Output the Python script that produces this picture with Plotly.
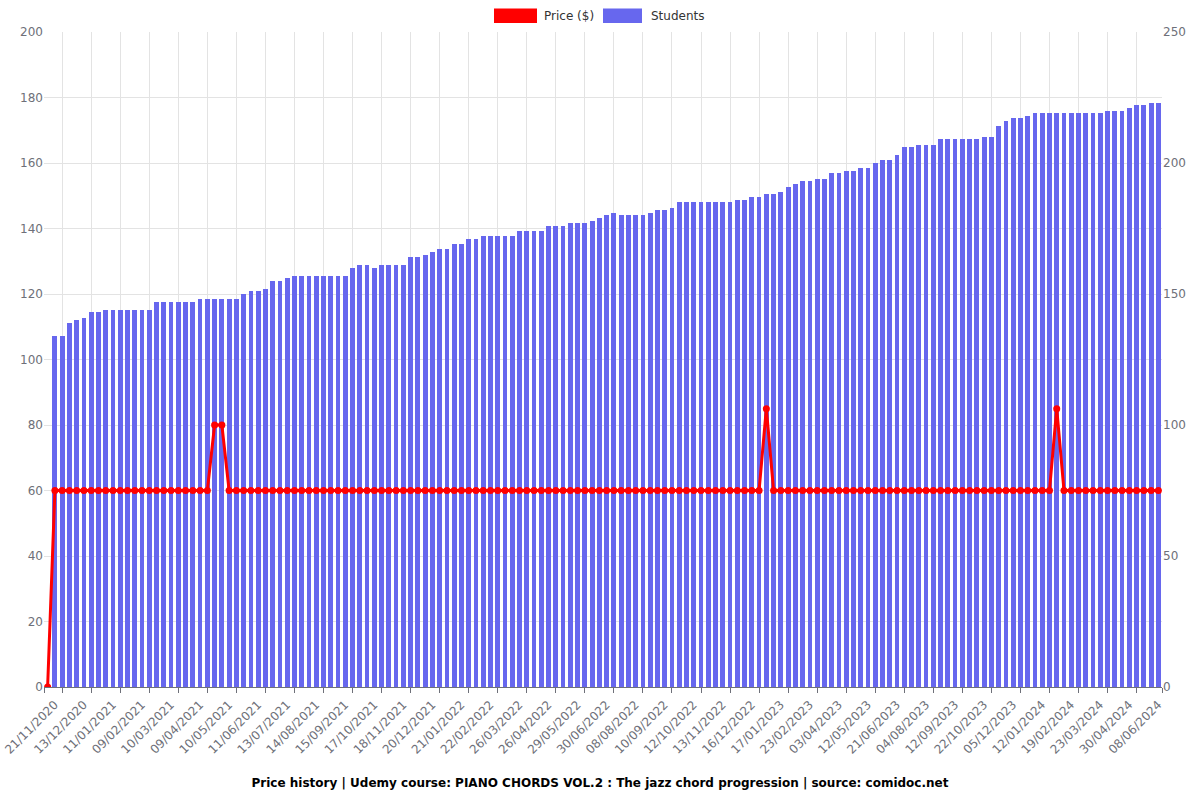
import plotly.graph_objects as go

tick_labels = ["21/11/2020", "13/12/2020", "11/01/2021", "09/02/2021", "10/03/2021", "09/04/2021",
               "10/05/2021", "11/06/2021", "13/07/2021", "14/08/2021", "15/09/2021", "17/10/2021",
               "18/11/2021", "20/12/2021", "21/01/2022", "22/02/2022", "26/03/2022", "26/04/2022",
               "29/05/2022", "30/06/2022", "08/08/2022", "10/09/2022", "12/10/2022", "13/11/2022",
               "16/12/2022", "17/01/2023", "23/02/2023", "03/04/2023", "12/05/2023", "21/06/2023",
               "04/08/2023", "12/09/2023", "22/10/2023", "05/12/2023", "12/01/2024", "19/02/2024",
               "23/03/2024", "30/04/2024", "08/06/2024"]

# run-length groups: (value, count)
students_runs = [(None, 1), (134, 2), (139, 1), (140, 1), (141, 1), (143, 2), (144, 7), (147, 6),
                 (148, 6), (150, 1), (151, 2), (152, 1), (155, 2), (156, 1), (157, 8), (160, 1),
                 (161, 2), (160, 1), (161, 4), (164, 2), (165, 1), (166, 1), (167, 2), (169, 2),
                 (171, 2), (172, 5), (174, 4), (176, 3), (177, 3), (178, 1), (179, 1), (180, 1),
                 (181, 1), (180, 4), (181, 1), (182, 2), (183, 1), (185, 8), (186, 2), (187, 2),
                 (188, 2), (189, 1), (191, 1), (192, 1), (193, 2), (194, 2), (196, 2), (197, 2),
                 (198, 2), (200, 1), (201, 2), (203, 1), (206, 2), (207, 3), (209, 6), (210, 2),
                 (214, 1), (216, 1), (217, 2), (218, 1), (219, 10), (220, 3), (221, 1), (222, 2),
                 (223, 2)]

price_runs = [(0, 1), (60, 22), (80, 2), (60, 74), (85, 1), (60, 39), (85, 1), (60, 14)]

students = [v for v, n in students_runs for _ in range(n)]
price = [v for v, n in price_runs for _ in range(n)]
idx = list(range(len(students)))

BLUE = "#6767ee"
RED = "#ff0000"
GRID_L = "#e3e3e3"
GRID_R = "#cfcfcf"
TXT = "#6e7079"

fig = go.Figure()
fig.add_trace(go.Bar(x=idx, y=students, name="Students", marker=dict(color=BLUE, line=dict(width=0)),
                     width=0.66, yaxis="y", showlegend=False))
fig.add_trace(go.Scatter(x=idx, y=price, name="Price ($)", mode="lines+markers",
                         line=dict(color=RED, width=3), marker=dict(color=RED, size=7),
                         yaxis="y2", showlegend=False))

minor_vals = [-0.5] + list(range(2, len(idx), 4)) + [len(idx) - 0.5]

fig.update_layout(
    width=1200, height=800,
    margin=dict(l=44, r=38, t=32, b=113, autoexpand=False),
    paper_bgcolor="white", plot_bgcolor="white",
    font=dict(family="DejaVu Sans", size=12, color=TXT),
    bargap=0,
    xaxis=dict(range=[-0.5, len(idx) - 0.5], tickmode="array", automargin=False,
               tickvals=list(range(0, len(idx), 4))[:len(tick_labels)], ticktext=tick_labels,
               tickangle=-45, showgrid=False, ticks="", zeroline=False,
               ticklabeloverflow="allow", ticklabelshift=7, ticklabelstandoff=5,
               showline=True, linecolor="#6e7079", linewidth=1,
               tickfont=dict(size=12, color=TXT),
               minor=dict(tickmode="array", tickvals=minor_vals, showgrid=True, gridcolor=GRID_L,
                          ticks="outside", ticklen=5, tickcolor="#6e7079")),
    yaxis=dict(side="right", range=[0, 250], dtick=50, showgrid=True, gridcolor=GRID_R,
               automargin=False,
               zeroline=False, tickfont=dict(size=12, color=TXT), ticks=""),
    yaxis2=dict(side="left", overlaying="y", range=[0, 200], dtick=20, showgrid=True,
                automargin=False,
                gridcolor=GRID_L, zeroline=False, tickfont=dict(size=12, color=TXT), ticks=""),
    title=dict(text="<b>Price history | Udemy course: PIANO CHORDS VOL.2 : The jazz chord progression | source: comidoc.net</b>",
               x=0.5, xanchor="center", y=1 - 783 / 800, yanchor="middle",
               font=dict(family="DejaVu Sans", size=12, color="#000000")),
    shapes=[
        dict(type="rect", xref="paper", yref="paper", x0=(494 - 44) / 1118, x1=(537 - 44) / 1118,
             y0=1 + (32 - 23) / 655, y1=1 + (32 - 8.5) / 655, fillcolor=RED, line=dict(width=0)),
        dict(type="rect", xref="paper", yref="paper", x0=(603 - 44) / 1118, x1=(642 - 44) / 1118,
             y0=1 + (32 - 23) / 655, y1=1 + (32 - 8.5) / 655, fillcolor=BLUE, line=dict(width=0)),
    ],
    annotations=[
        dict(text="Price ($)", xref="paper", yref="paper", x=(542 - 44) / 1118, y=1 + (32 - 16) / 655,
             xanchor="left", yanchor="middle", showarrow=False, font=dict(size=12, color="#333333")),
        dict(text="Students", xref="paper", yref="paper", x=(649 - 44) / 1118, y=1 + (32 - 16) / 655,
             xanchor="left", yanchor="middle", showarrow=False, font=dict(size=12, color="#333333")),
    ],
)

fig.write_html("out.html")
